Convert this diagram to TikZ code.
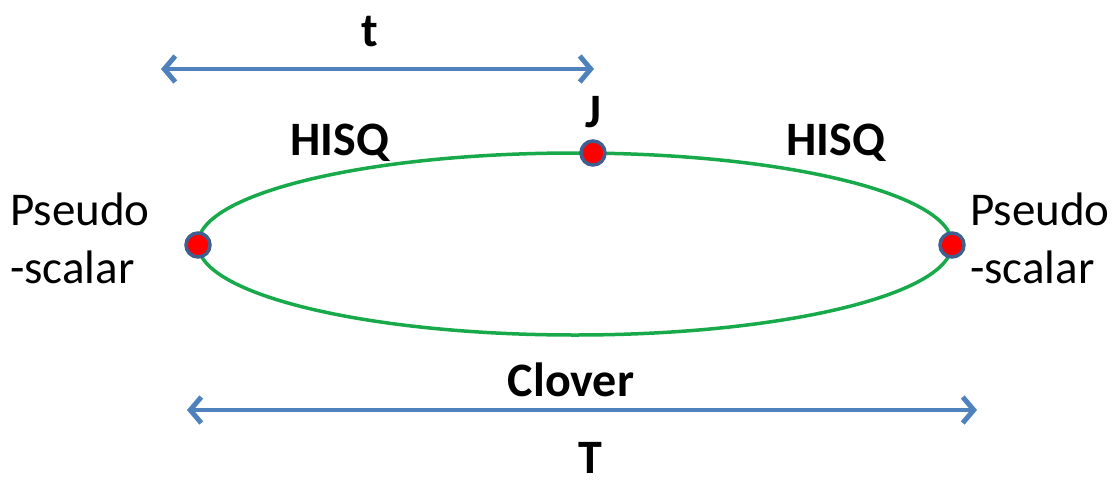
\documentclass[tikz,border=0pt]{standalone}
\usepackage{fontspec}
\setmainfont{Carlito}
\usetikzlibrary{arrows.meta}
\definecolor{loopgreen}{HTML}{17A94A}
\definecolor{arrowblue}{HTML}{4F81BD}
\definecolor{dotrim}{HTML}{3F5F8F}
\tikzset{
  loop/.style={draw=loopgreen, line width=3.5pt},
  vertex/.style={circle, fill=red, draw=dotrim, line width=3.5pt, minimum size=24pt, inner sep=0pt},
  barb/.tip={Straight Barb[length=11pt,width=26pt,line width=5pt]},
  span/.style={draw=arrowblue, line width=4pt, barb-barb},
  lbl/.style={font=\fontsize{48}{58}\selectfont\bfseries, inner sep=0pt},
  side/.style={font=\fontsize{47}{58}\selectfont, align=left, inner sep=0pt}
}
\begin{document}
\begin{tikzpicture}[x=1pt, y=-1pt]
  \useasboundingbox (0,0) rectangle (1120,480);
  % propagator loop
  \draw[loop] (575,244) ellipse [x radius=377, y radius=91];
  % vertices on the loop
  \node[vertex] (src) at (198,245) {};
  \node[vertex] (snk) at (952,245) {};
  \node[vertex] (cur) at (593,153) {};
  % time extents
  \coordinate (t0) at (161,69);
  \coordinate (t1) at (594,69);
  \coordinate (T0) at (187,410);
  \coordinate (T1) at (977,410);
  \draw[span] (t0) -- (t1);
  \draw[span] (T0) -- (T1);
  % labels
  \node[lbl] (tl) at (370,32) {t};
  \node[lbl] (Jl) at (593,112) {J};
  \node[lbl] (h1) at (340,143) {HISQ};
  \node[lbl] (h2) at (836,143) {HISQ};
  \node[lbl] (cl) at (571,380) {Clover};
  \node[lbl] (Tl) at (590,458) {T};
  \node[side, anchor=west] (psL) at (10,238) {Pseudo\\-scalar};
  \node[side, anchor=west] (psR) at (970,238) {Pseudo\\-scalar};
\end{tikzpicture}
\end{document}
